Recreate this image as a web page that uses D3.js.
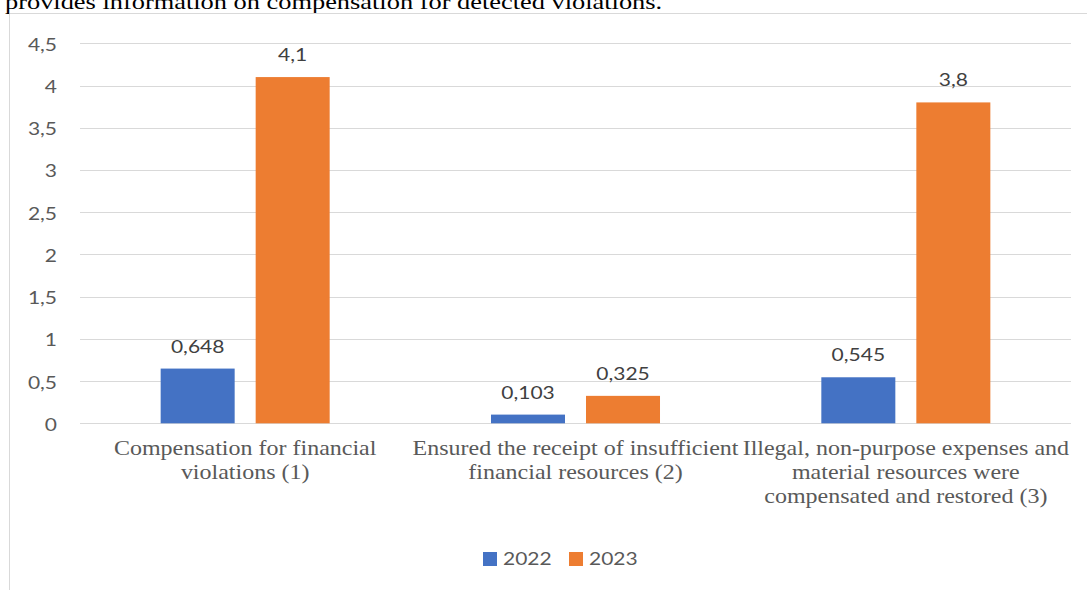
<!DOCTYPE html>
<html>
<head>
<meta charset="utf-8">
<script src="https://cdn.jsdelivr.net/npm/d3@7"></script>
<style>
  html, body { margin: 0; padding: 0; background: #fff; }
  svg { display: block; }
</style>
</head>
<body>
<script>
// Compensation amounts by category, 2022 vs 2023
const categories = [
  "Compensation for financial violations (1)",
  "Ensured the receipt of insufficient financial resources (2)",
  "Illegal, non-purpose expenses and material resources were compensated and restored (3)"
];
const categoryLines = [
  ["Compensation for financial", "violations (1)"],
  ["Ensured the receipt of insufficient", "financial resources (2)"],
  ["Illegal, non-purpose expenses and", "material resources were", "compensated and restored (3)"]
];
const series = ["2022", "2023"];
const values2022 = [0.648, 0.103, 0.545];
const values2023 = [4.1, 0.325, 3.8];
const valueLabels2022 = ["0,648", "0,103", "0,545"];
const valueLabels2023 = ["4,1", "0,325", "3,8"];
const yTicks = [0, 0.5, 1, 1.5, 2, 2.5, 3, 3.5, 4, 4.5];
const yTickLabels = ["0", "0,5", "1", "1,5", "2", "2,5", "3", "3,5", "4", "4,5"];
const colors = ["#4472c4", "#ed7d31"];

const W = 1087, H = 590;
const SX = 1.2; // horizontal stretch applied to all text glyphs
const SANS = "Lato, 'Open Sans', sans-serif";
const SERIF = "'Liberation Serif', 'Times New Roman', serif";

const svg = d3.select("body").append("svg").attr("width", W).attr("height", H);

// Caption line above the chart frame
svg.append("text")
  .attr("transform", `translate(5,9) scale(${SX},1)`)
  .attr("font-family", SERIF)
  .attr("font-size", 22)
  .attr("fill", "#000")
  .text("provides information on compensation for detected violations.");

// Chart frame
svg.append("path")
  .attr("d", `M9.5,${H} V13.5 H${W}`)
  .attr("fill", "none").attr("stroke", "#d9d9d9").attr("stroke-width", 1);

const plot = { left: 80, right: 1071, top: 43.3, bottom: 423.3 };

const y = d3.scaleLinear().domain([0, 4.5]).range([plot.bottom, plot.top]);
const x0 = d3.scaleBand().domain(categories).range([plot.left, plot.right]).padding(0);
const x1 = d3.scaleBand().domain(series).range([0, x0.bandwidth()])
  .paddingInner(0.2211).paddingOuter(0.849);

// Gridlines
svg.append("g").selectAll("line").data(yTicks).join("line")
  .attr("x1", plot.left).attr("x2", plot.right)
  .attr("y1", d => Math.round(y(d)) + 0.5).attr("y2", d => Math.round(y(d)) + 0.5)
  .attr("stroke", "#d9d9d9").attr("stroke-width", 1);

// Y axis labels
const yAxis = d3.axisLeft(y).tickValues(yTicks)
  .tickFormat((d, i) => yTickLabels[i]).tickSize(0).tickPadding(0);
const yg = svg.append("g").attr("transform", `translate(57,0)`).call(yAxis);
yg.select(".domain").remove();
yg.selectAll("text")
  .attr("x", 0)
  .attr("transform", `scale(${SX},1)`)
  .attr("font-family", SANS)
  .attr("font-size", 17.5)
  .attr("fill", "#595959")
  .attr("dy", "0.4em");

// Bars
const rows = categories.map((c, i) => ({
  cat: c,
  vals: [
    { s: series[0], v: values2022[i], label: valueLabels2022[i] },
    { s: series[1], v: values2023[i], label: valueLabels2023[i] }
  ]
}));

const groups = svg.append("g").selectAll("g").data(rows).join("g")
  .attr("transform", d => `translate(${x0(d.cat)},0)`);

groups.selectAll("rect").data(d => d.vals).join("rect")
  .attr("x", d => x1(d.s))
  .attr("width", x1.bandwidth())
  .attr("y", d => y(d.v))
  .attr("height", d => y(0) - y(d.v))
  .attr("fill", (d, i) => colors[i]);

groups.selectAll("text.val").data(d => d.vals).join("text")
  .attr("class", "val")
  .attr("transform", d =>
    `translate(${x1(d.s) + x1.bandwidth() / 2},${y(d.v) - 16}) scale(${SX},1)`)
  .attr("text-anchor", "middle")
  .attr("font-family", SANS)
  .attr("font-size", 17.5)
  .attr("fill", "#404040")
  .text(d => d.label);

// Category labels
const catG = svg.append("g").selectAll("text").data(categories).join("text")
  .attr("transform", d => `translate(${x0(d) + x0.bandwidth() / 2},455) scale(${SX},1)`)
  .attr("text-anchor", "middle")
  .attr("font-family", SERIF)
  .attr("font-size", 20)
  .attr("fill", "#595959");
catG.each(function(d, i) {
  d3.select(this).selectAll("tspan").data(categoryLines[i]).join("tspan")
    .attr("x", 0)
    .attr("dy", (t, j) => j === 0 ? 0 : 24)
    .text(t => t);
});

// Legend
const legend = svg.append("g");
const legendX = [483, 569];
series.forEach((s, i) => {
  legend.append("rect")
    .attr("x", legendX[i]).attr("y", 552)
    .attr("width", 14).attr("height", 14)
    .attr("fill", colors[i]);
  legend.append("text")
    .attr("transform", `translate(${legendX[i] + 20},565) scale(${SX},1)`)
    .attr("font-family", SANS)
    .attr("font-size", 17.5)
    .attr("fill", "#595959")
    .text(s);
});
</script>
</body>
</html>
